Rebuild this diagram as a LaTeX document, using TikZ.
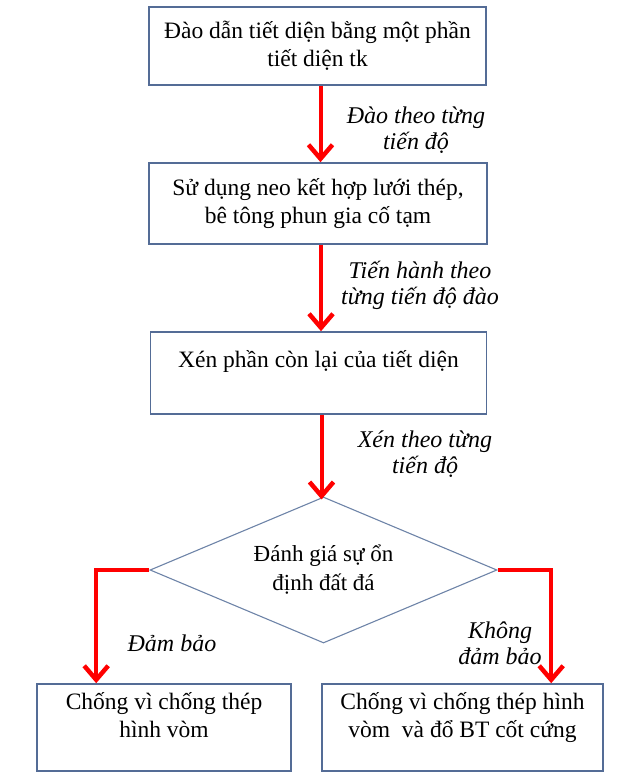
\documentclass[tikz,border=0pt]{standalone}
\usepackage{fontspec}
\setmainfont{Liberation Serif}
\usetikzlibrary{shapes.geometric,arrows.meta}

\definecolor{boxblue}{RGB}{84,108,150}
\definecolor{edgeblue}{RGB}{110,132,168}

\begin{document}
\begin{tikzpicture}[x=1pt,y=-1pt,
  boxnode/.style={shape=rectangle, draw=boxblue, line width=1.6, fill=white, align=center,
    inner sep=0, font=\fontsize{23.5}{28}\selectfont},
  choicenode/.style={shape=diamond, draw=edgeblue, line width=1.1, fill=white, align=center,
    inner sep=0, aspect=2.38, minimum width=347, minimum height=146, font=\fontsize{23}{29}\selectfont},
  notenode/.style={align=center, font=\fontsize{24}{26}\selectfont\itshape},
  redarrow/.style={draw=red, line width=4, -{Straight Barb[length=14pt,width=24pt,line width=4.5pt]}},
]
\useasboundingbox (0,0) rectangle (616,781);

%%% boxes
\node[boxnode, minimum width=337, minimum height=78] (dao) at (317.5,46)
  {Đào dẫn tiết diện bằng một phần\\ tiết diện tk};
\node[boxnode, minimum width=338, minimum height=81] (neo) at (318,203.5)
  {Sử dụng neo kết hợp lưới thép,\\ bê tông phun gia cố tạm};
\node[boxnode, minimum width=336, minimum height=82, text depth=28pt] (xen) at (318.5,373)
  {Xén phần còn lại của tiết diện};
\node[choicenode] (danhgia) at (323.5,570) {Đánh giá sự ổn\\ định đất đá};
\node[boxnode, minimum width=254, minimum height=87, text depth=26pt] (vom) at (164,727.5)
  {Chống vì chống thép\\ hình vòm};
\node[boxnode, minimum width=281, minimum height=87, text depth=26pt] (vombt) at (462.5,727.5)
  {Chống vì chống thép hình\\ vòm\ \ và đổ BT cốt cứng};

%%% arrows
\draw[redarrow] ([xshift=3]dao.south) -- ([xshift=3]dao.south |- neo.north);
\draw[redarrow] ([xshift=3]neo.south) -- ([xshift=3]neo.south |- xen.north);
\draw[redarrow] ([xshift=3]xen.south) -- ([xshift=3,yshift=-3]xen.south |- danhgia.north);
\draw[redarrow] (danhgia.west) -| ([xshift=60]vom.north west);
\draw[redarrow] (danhgia.east) -| ([xshift=230]vombt.north west);

%%% notes
\node[notenode] (n1) at (416,130) {Đào theo từng\\ tiến độ};
\node[notenode] (n2) at (420,285) {Tiến hành theo\\ từng tiến độ đào};
\node[notenode] (n3) at (425,454) {Xén theo từng\\ tiến độ};
\node[notenode] (n4) at (172,643) {Đảm bảo};
\node[notenode] (n5) at (500,643) {Không\\ đảm bảo};
\end{tikzpicture}
\end{document}
